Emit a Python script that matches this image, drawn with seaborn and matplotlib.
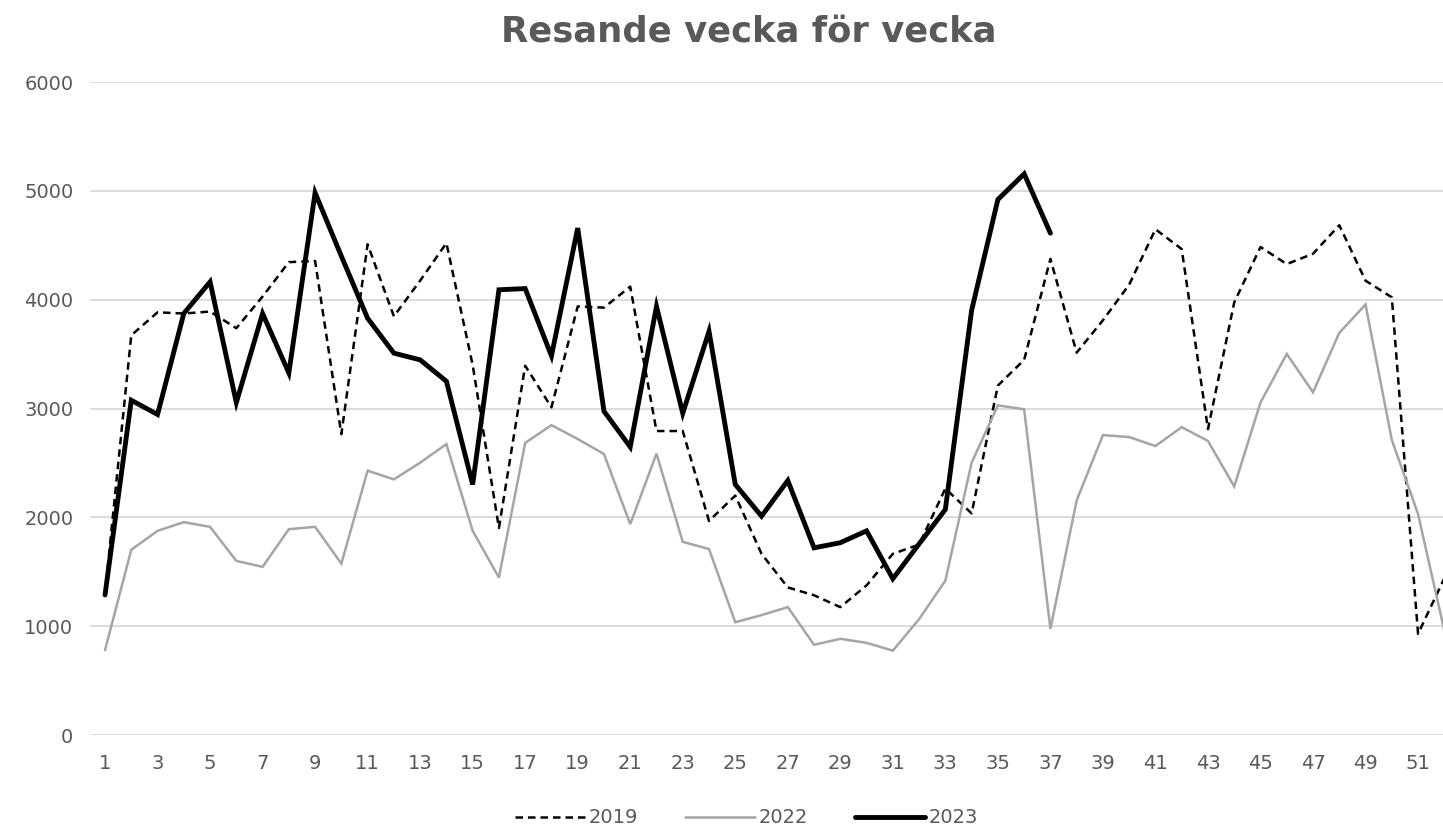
import numpy as np
import pandas as pd
import matplotlib
matplotlib.use('Agg')
import matplotlib.pyplot as plt
import seaborn as sns

# Weeks 1-52
weeks = list(range(1, 53))

# Travellers per week
resande_2019 = [1300, 3673, 3884, 3873, 3891, 3738, 4029, 4345, 4356, 2764,
                4509, 3847, 4175, 4520, 3400, 1902, 3393, 3011, 3938, 3927,
                4120, 2793, 2793, 1967, 2200, 1665, 1356, 1284, 1175, 1375,
                1665, 1750, 2265, 2036, 3211, 3447, 4375, 3513, 3811, 4138,
                4647, 4465, 2811, 3975, 4484, 4327, 4422, 4684, 4175, 4022,
                930, 1440]

resande_2022 = [780, 1702, 1876, 1956, 1913, 1600, 1545, 1891, 1913, 1575,
                2429, 2349, 2502, 2673, 1876, 1447, 2684, 2847, 2720, 2582,
                1938, 2585, 1775, 1709, 1036, 1102, 1175, 829, 884, 847,
                775, 1065, 1418, 2502, 3029, 2993, 975, 2156, 2756, 2738,
                2655, 2829, 2702, 2284, 3055, 3502, 3149, 3695, 3956, 2712,
                2030, 960]

# 2023 only up to week 37
resande_2023 = [1287, 3076, 2945, 3873, 4164, 3055, 3873, 3327, 4982, 4400,
                3829, 3509, 3447, 3250, 2302, 4091, 4102, 3484, 4658, 2975,
                2647, 3938, 2956, 3709, 2302, 2011, 2338, 1720, 1767, 1876,
                1436, 1756, 2073, 3902, 4920, 5156, 4611]

xtick_labels = [str(w) for w in range(1, 53, 2)]
yticks = [0, 1000, 2000, 3000, 4000, 5000, 6000]

sns.set_theme(style='white')
plt.rcParams['font.family'] = ['DejaVu Sans']

text_color = '#595959'

fig = plt.figure(figsize=(14.43, 8.31), dpi=100)
ax = fig.add_axes([0.0624, 0.1155, 0.9376, 0.7858])

# Series
sns.lineplot(x=weeks, y=resande_2019, ax=ax, color='black', linewidth=1.8,
             label='2019')
ax.lines[-1].set_dashes([3, 2])
sns.lineplot(x=weeks, y=resande_2022, ax=ax, color='#a5a5a5', linewidth=1.8,
             label='2022')
sns.lineplot(x=weeks[:len(resande_2023)], y=resande_2023, ax=ax, color='black',
             linewidth=3.5, label='2023')

for line in ax.lines:
    line.set_solid_capstyle('round')
    line.set_solid_joinstyle('miter')

ax.set_xlim(0.43, 51.95)
ax.set_ylim(0, 6000)
ax.set_xticks(range(1, 53, 2))
ax.set_xticklabels(xtick_labels)
ax.set_yticks(yticks)
ax.set_yticklabels([str(v) for v in yticks])

ax.grid(axis='y', color='#d9d9d9', linewidth=1.3)
ax.set_axisbelow(True)
for s in ax.spines.values():
    s.set_visible(False)

ax.tick_params(axis='both', length=0, labelsize=14, labelcolor=text_color)
ax.tick_params(axis='y', pad=12)
ax.tick_params(axis='x', pad=14)
ax.set_xlabel('')
ax.set_ylabel('')

fig.suptitle('Resande vecka för vecka', x=0.519, y=0.983, fontsize=25.5,
             fontweight='bold', color=text_color)

leg = ax.legend(loc='center', bbox_to_anchor=(0.485, -0.127), ncol=3,
                frameon=False, fontsize=14, handlelength=3.6,
                columnspacing=2.4, handletextpad=0.2)
for t in leg.get_texts():
    t.set_color(text_color)

fig.savefig('out.png', dpi=100)
